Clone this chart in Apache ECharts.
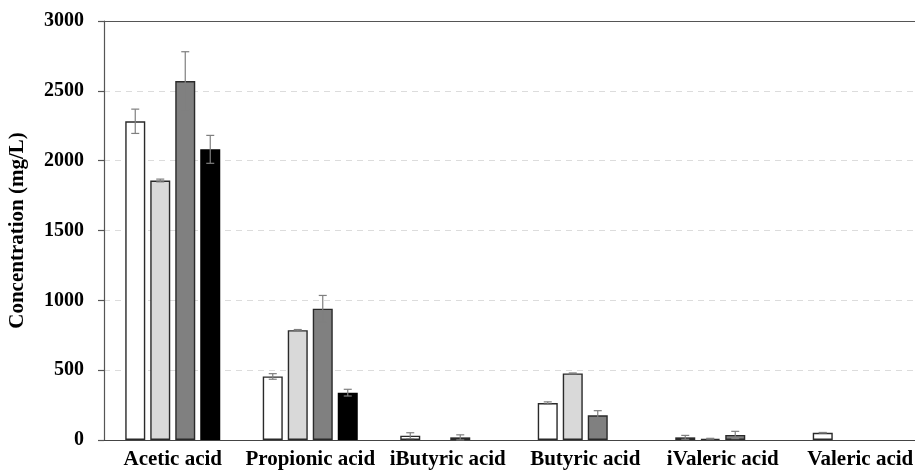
<!DOCTYPE html>
<html>
<head>
<meta charset="utf-8">
<script src="https://cdn.jsdelivr.net/npm/echarts@6/dist/echarts.min.js"></script>
<style>html,body{margin:0;padding:0;background:#fff}#c{width:915px;height:474px}</style>
</head>
<body>
<div id="c"></div>
<script>
const categories = ['Acetic acid','Propionic acid','iButyric acid','Butyric acid','iValeric acid','Valeric acid'];
const values1 = [2282, 455, 31, 265, 19, 52];
const values2 = [1858, 786, null, 477, 9, null];
const values3 = [2570, 940, 19, 177, 36, null];
const values4 = [2081, 339, null, null, null, null];
const errors1 = [87, 20, 21, 8, 14, 2];
const errors2 = [10, 5, null, 3, 3, null];
const errors3 = [210, 95, 18, 33, 26, null];
const errors4 = [100, 24, null, null, null, null];
const yTicks = [0, 500, 1000, 1500, 2000, 2500, 3000];

const fills = ['#ffffff', '#d9d9d9', '#808080', '#000000'];
const borders = ['#2a2a2a', '#2a2a2a', '#2a2a2a', '#000000'];
const allValues = [values1, values2, values3, values4];
const allErrors = [errors1, errors2, errors3, errors4];
const BAR_W = 20, PITCH = 25;
const font = "'Liberation Serif','Times New Roman',serif";

const chart = echarts.init(document.getElementById('c'), null, {renderer: 'canvas'});

const errData = [];
allValues.forEach((vals, s) => {
  vals.forEach((v, i) => {
    const e = allErrors[s][i];
    if (v != null && e != null) errData.push([i, v, e, s]);
  });
});

const series = allValues.map((vals, s) => ({
  type: 'bar',
  name: 'S' + (s + 1),
  data: vals.map(v => v == null ? '-' : v),
  barWidth: BAR_W,
  barGap: '25%',
  itemStyle: { color: fills[s], borderColor: borders[s], borderWidth: 1.4 },
  silent: true
}));

series.push({
  type: 'custom',
  data: errData,
  z: 10,
  silent: true,
  renderItem: function (params, api) {
    const i = api.value(0), v = api.value(1), e = api.value(2), s = api.value(3);
    const off = (s - 1.5) * PITCH;
    const top = api.coord([i, v + e]);
    const bot = api.coord([i, Math.max(v - e, 0)]);
    const x = top[0] + off;
    const cap = 4;
    const style = { stroke: '#7f7f7f', lineWidth: 1.2 };
    return {
      type: 'group',
      children: [
        { type: 'line', shape: { x1: x, y1: top[1], x2: x, y2: bot[1] }, style },
        { type: 'line', shape: { x1: x - cap, y1: top[1], x2: x + cap, y2: top[1] }, style },
        { type: 'line', shape: { x1: x - cap, y1: bot[1], x2: x + cap, y2: bot[1] }, style }
      ]
    };
  }
});

chart.setOption({
  animation: false,
  backgroundColor: '#ffffff',
  grid: { left: 104, top: 21, width: 825, height: 419, containLabel: false, outerBoundsMode: 'none' },
  xAxis: [{
    type: 'category',
    data: categories,
    axisLine: { lineStyle: { color: '#444', width: 1.2 } },
    axisTick: { show: false },
    axisLabel: { color: '#000', fontFamily: font, fontWeight: 'bold', fontSize: 21, margin: 9, interval: 0, hideOverlap: false }
  }, {
    type: 'category',
    data: categories,
    position: 'top',
    axisLine: { show: true, onZero: false, lineStyle: { color: '#555', width: 1.2 } },
    axisTick: { show: false },
    axisLabel: { show: false },
    splitLine: { show: false }
  }],
  yAxis: {
    type: 'value',
    min: yTicks[0],
    max: yTicks[yTicks.length - 1],
    interval: yTicks[1] - yTicks[0],
    name: 'Concentration (mg/L)',
    nameLocation: 'middle',
    nameGap: 76,
    nameTextStyle: { color: '#000', fontFamily: font, fontWeight: 'bold', fontSize: 21 },
    axisLine: { show: true, lineStyle: { color: '#555', width: 1.2 } },
    axisTick: { show: true, length: 6, lineStyle: { color: '#555', width: 1.2 } },
    axisLabel: { color: '#000', fontFamily: font, fontWeight: 'bold', fontSize: 20, margin: 20, formatter: v => String(v) },
    splitLine: { show: true, lineStyle: { color: '#dcdcdc', type: [6, 5], width: 1 } }
  },
  series: series
});
</script>
</body>
</html>
